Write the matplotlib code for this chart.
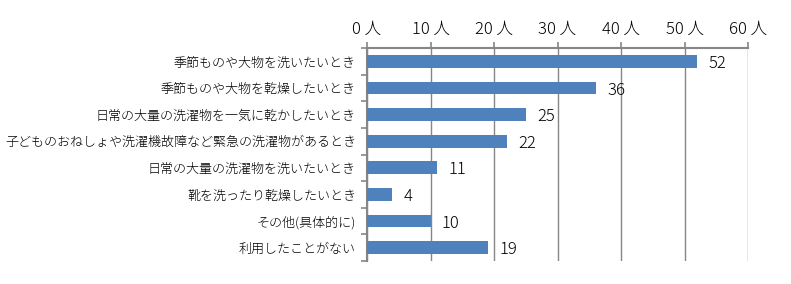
import matplotlib
matplotlib.use("Agg")
import matplotlib.pyplot as plt

plt.rcParams['font.family'] = ['Noto Sans CJK JP', 'DejaVu Sans']

categories = [
    "季節ものや大物を洗いたいとき",
    "季節ものや大物を乾燥したいとき",
    "日常の大量の洗濯物を一気に乾かしたいとき",
    "子どものおねしょや洗濯機故障など緊急の洗濯物があるとき",
    "日常の大量の洗濯物を洗いたいとき",
    "靴を洗ったり乾燥したいとき",
    "その他(具体的に)",
    "利用したことがない",
]
values = [52, 36, 25, 22, 11, 4, 10, 19]
xticks = [0, 10, 20, 30, 40, 50, 60]
xticklabels = [f"{v} 人" for v in xticks]

fig = plt.figure(figsize=(7.91, 2.84), dpi=100)
ax = fig.add_axes([367/791, 1 - 261/284, (748 - 367)/791, (261 - 48)/284])

n = len(categories)
ypos = list(range(n))
bar_color = '#4F81BD'
ax.barh(ypos, values, height=0.48, color=bar_color, zorder=3)
for y, v in zip(ypos, values):
    ax.text(v + 1.8, y + 0.08, str(v), va='center', ha='left', fontsize=12,
            color='#000000', fontweight='light')

ax.set_xlim(0, 60)
ax.set_ylim(n - 0.5, -0.5)
ax.xaxis.tick_top()
ax.set_xticks(xticks)
ax.set_xticklabels(xticklabels, fontsize=12, fontweight='light')
ax.tick_params(axis='x', direction='out', length=4, width=1.2, color='#868686', pad=3)

ax.set_yticks(ypos)
ax.set_yticklabels(categories, fontsize=9.4, fontweight='light')
ax.tick_params(axis='y', length=0, pad=8)
ax.set_yticks([i - 0.5 for i in range(n + 1)], minor=True)
ax.tick_params(axis='y', which='minor', direction='out', length=4, width=1.2, color='#868686')

ax.grid(axis='x', color='#868686', linewidth=1.0, zorder=0)
ax.set_axisbelow(True)
for s in ['right', 'bottom']:
    ax.spines[s].set_visible(False)
for s in ['top', 'left']:
    ax.spines[s].set_color('#868686')
    ax.spines[s].set_linewidth(1.5)

fig.savefig("out.png", dpi=100)
